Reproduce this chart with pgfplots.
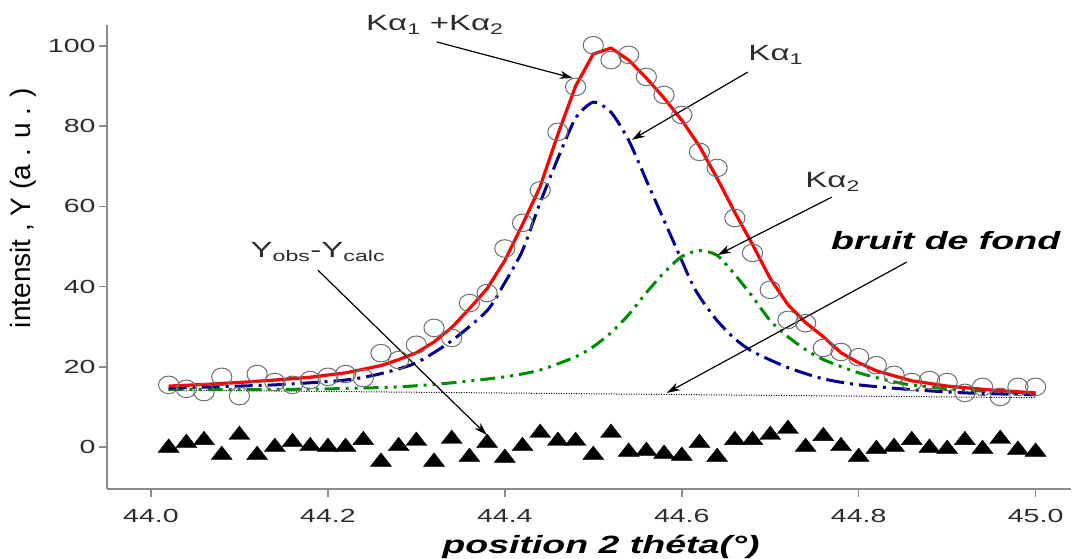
\documentclass[border=0pt]{standalone}
\usepackage{fontspec}
\setmainfont[FakeStretch=1.5]{Liberation Sans}
\newfontfamily\ylabfont{Liberation Sans}
\usepackage{pgfplots}
\pgfplotsset{compat=1.18}
\usetikzlibrary{arrows.meta}
\definecolor{axgray}{RGB}{140,140,140}
\definecolor{txtgray}{RGB}{45,45,45}
\definecolor{cblue}{RGB}{0,0,140}
\definecolor{cgreen}{RGB}{0,140,0}
\definecolor{cred}{RGB}{255,0,0}
\definecolor{cgrayc}{RGB}{110,110,110}
\pgfplotstableread{
x y
44.02 15.5
44.04 14.5
44.06 13.7
44.08 17.5
44.10 12.7
44.12 18.2
44.14 16.2
44.16 15.5
44.18 16.7
44.20 17.5
44.22 18.2
44.24 17.2
44.26 23.4
44.28 21.7
44.30 25.5
44.32 29.7
44.34 27.2
44.36 35.9
44.38 38.4
44.40 49.5
44.42 55.9
44.44 64.0
44.46 78.6
44.48 89.8
44.50 100.2
44.52 96.5
44.54 97.8
44.56 92.3
44.58 87.8
44.60 82.8
44.62 73.6
44.64 69.6
44.66 57.1
44.68 48.4
44.70 39.2
44.72 31.7
44.74 30.9
44.76 24.7
44.78 23.7
44.80 22.4
44.82 20.4
44.84 18.0
44.86 16.2
44.88 16.7
44.90 16.2
44.92 13.5
44.94 15.0
44.96 12.5
44.98 15.0
45.00 15.0
}\obs
\pgfplotstableread{
x y
44.02 -0.2
44.04 1.0
44.06 1.7
44.08 -2.0
44.10 3.0
44.12 -2.0
44.14 0.0
44.16 1.2
44.18 0.2
44.20 0.0
44.22 0.0
44.24 1.7
44.26 -3.7
44.28 0.2
44.30 1.5
44.32 -3.7
44.34 2.0
44.36 -2.5
44.38 1.0
44.40 -2.7
44.42 0.2
44.44 3.5
44.46 1.5
44.48 1.5
44.50 -2.0
44.52 3.5
44.54 -1.2
44.56 -1.0
44.58 -1.7
44.60 -2.2
44.62 1.0
44.64 -2.5
44.66 1.7
44.68 1.7
44.70 3.0
44.72 4.5
44.74 0.0
44.76 2.7
44.78 0.2
44.80 -2.5
44.82 -0.5
44.84 0.0
44.86 1.7
44.88 -0.2
44.90 -0.5
44.92 1.7
44.94 -0.5
44.96 2.0
44.98 -0.7
45.00 -1.2
}\resid
\pgfplotstableread{
x y
44.02 15.2
44.06 15.6
44.10 16.1
44.14 16.7
44.18 17.4
44.22 18.5
44.26 20.3
44.28 21.8
44.30 23.5
44.32 26.2
44.34 29.8
44.36 34.5
44.38 39.5
44.40 46.5
44.42 55.5
44.44 65.0
44.46 78.0
44.48 90.0
44.50 98.0
44.52 99.5
44.54 96.5
44.56 92.0
44.58 87.0
44.60 81.5
44.62 75.0
44.64 67.0
44.66 58.5
44.68 50.5
44.70 42.0
44.72 35.5
44.74 31.0
44.76 27.5
44.78 23.5
44.80 21.0
44.82 19.0
44.86 16.5
44.90 15.2
44.95 14.2
45.00 13.5
}\total
\pgfplotstableread{
x y
44.02 14.7
44.14 15.5
44.22 16.7
44.26 18.3
44.30 21.0
44.34 26.5
44.38 34.0
44.40 41.0
44.42 49.0
44.44 61.0
44.46 72.0
44.48 82.0
44.50 86.0
44.52 83.5
44.54 76.5
44.56 66.5
44.58 56.5
44.60 46.5
44.61 41.5
44.62 37.5
44.64 31.5
44.66 27.0
44.68 23.8
44.72 19.8
44.76 17.0
44.80 15.5
44.86 14.3
44.92 13.5
45.00 13.0
}\kaone
\pgfplotstableread{
x y
44.02 14.4
44.10 14.3
44.20 14.5
44.28 15.0
44.34 16.0
44.40 17.5
44.44 19.2
44.48 22.5
44.50 25.0
44.52 28.5
44.54 33.0
44.56 38.5
44.58 43.5
44.60 47.5
44.62 49.0
44.64 47.8
44.66 43.0
44.68 37.5
44.70 31.5
44.72 27.5
44.74 24.3
44.76 21.8
44.80 18.5
44.85 15.8
44.91 14.3
45.00 13.4
}\katwo
\begin{document}
\begin{tikzpicture}[x=1pt,y=1pt]
\path[use as bounding box] (0,0) rectangle (1073,559);
\begin{axis}[
  at={(107pt,70pt)}, anchor=south west,
  scale only axis, width=964pt, height=464pt,
  xmin=43.9503, xmax=45.04, ymin=-10.47, ymax=105.24,
  axis x line=bottom, axis y line=left,
  axis line style={-, axgray, line width=2pt},
  tick style={axgray, line width=1.5pt},
  tick align=outside, major tick length=8pt,
  xtick={44,44.2,44.4,44.6,44.8,45},
  ytick={0,20,40,60,80,100},
  /pgf/number format/assume math mode=true,
  x tick label style={yshift=-9pt, /pgf/number format/.cd,fixed,fixed zerofill,precision=1,/tikz/.cd},
  ticklabel style={font=\fontsize{19}{22}\selectfont, text=txtgray},
  clip=false,
]
\addplot[black, line width=1pt, dash pattern=on 1pt off 1.5pt] coordinates {(44.02,14.2) (45.00,12.3)};
\addplot[only marks, mark=o, mark size=8.8pt, mark options={cgrayc, xscale=1.15, line width=1pt}] table[x=x,y=y] {\obs};
\addplot[cgreen, line width=3pt, smooth, tension=0.4, dash pattern=on 15pt off 6pt on 3pt off 6pt on 3pt off 6pt] table[x=x,y=y] {\katwo};
\addplot[cblue, line width=3pt, smooth, tension=0.4, dash pattern=on 18pt off 6pt on 3pt off 6pt] table[x=x,y=y] {\kaone};
\addplot[cred, line width=3.2pt, line join=round] table[x=x,y=y] {\total};
\addplot[only marks, mark=triangle*, mark size=9pt, mark options={black, xscale=1.35}] table[x=x,y=y] {\resid};

\draw[black, line width=1.2pt, -{Stealth[length=13pt,width=8pt,inset=4pt]}] (axis cs:44.3232,101.0) -- (axis cs:44.4768,92.0);
\draw[black, line width=1.2pt, -{Stealth[length=13pt,width=8pt,inset=4pt]}] (axis cs:44.6746,93.5) -- (axis cs:44.5435,76.6);
\draw[black, line width=1.2pt, -{Stealth[length=13pt,width=8pt,inset=4pt]}] (axis cs:44.7695,62.3) -- (axis cs:44.6407,47.9);
\draw[black, line width=1.2pt, -{Stealth[length=13pt,width=8pt,inset=4pt]}] (axis cs:44.8542,46.1) -- (axis cs:44.5831,13.5);
\draw[black, line width=1.2pt, -{Stealth[length=13pt,width=8pt,inset=4pt]}] (axis cs:44.1887,44.1) -- (axis cs:44.3797,3.0);

\node[font=\fontsize{22}{26}\selectfont, text=txtgray] at (axis cs:44.3209,105.2) {Kα\textsubscript{1} +Kα\textsubscript{2}};
\node[font=\fontsize{22}{26}\selectfont, text=txtgray] at (axis cs:44.7062,97.8) {Kα\textsubscript{1}};
\node[font=\fontsize{22}{26}\selectfont, text=txtgray] at (axis cs:44.7706,66.1) {Kα\textsubscript{2}};
\node[font=\fontsize{25}{30}\selectfont\bfseries\itshape] at (axis cs:44.8983,51.6) {bruit de fond};
\node[font=\fontsize{22}{26}\selectfont, text=txtgray] at (axis cs:44.1887,48.6) {Y\textsubscript{obs}-Y\textsubscript{calc}};

\node[font=\fontsize{25}{30}\selectfont\bfseries\itshape, anchor=center] at (axis description cs:0.5124,-0.125) {position 2 théta(°)};
\node[font=\ylabfont\fontsize{28}{32}\selectfont, rotate=90, anchor=center] at (axis description cs:-0.0871,0.6056) {intensit , Y (a . u . )};
\end{axis}
\end{tikzpicture}
\end{document}
